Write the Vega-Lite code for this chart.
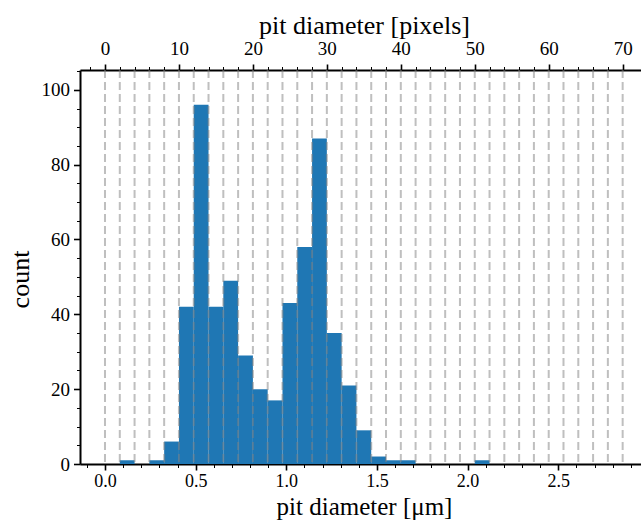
{
  "$schema": "https://vega.github.io/schema/vega-lite/v6.json",
  "width": 561,
  "height": 394,
  "autosize": {"type": "none"},
  "padding": {"left": 80, "top": 70, "right": 0, "bottom": 56},
  "background": "white",
  "datasets": {
    "bins": [
      {"px_start": 2, "px_end": 4, "count": 1},
      {"px_start": 6, "px_end": 8, "count": 1},
      {"px_start": 8, "px_end": 10, "count": 6},
      {"px_start": 10, "px_end": 12, "count": 42},
      {"px_start": 12, "px_end": 14, "count": 96},
      {"px_start": 14, "px_end": 16, "count": 42},
      {"px_start": 16, "px_end": 18, "count": 49},
      {"px_start": 18, "px_end": 20, "count": 29},
      {"px_start": 20, "px_end": 22, "count": 20},
      {"px_start": 22, "px_end": 24, "count": 17},
      {"px_start": 24, "px_end": 26, "count": 43},
      {"px_start": 26, "px_end": 28, "count": 58},
      {"px_start": 28, "px_end": 30, "count": 87},
      {"px_start": 30, "px_end": 32, "count": 35},
      {"px_start": 32, "px_end": 34, "count": 21},
      {"px_start": 34, "px_end": 36, "count": 9},
      {"px_start": 36, "px_end": 38, "count": 2},
      {"px_start": 38, "px_end": 40, "count": 1},
      {"px_start": 40, "px_end": 42, "count": 1},
      {"px_start": 50, "px_end": 52, "count": 1}
    ],
    "grid": [
      {"px": 0}, {"px": 2}, {"px": 4}, {"px": 6}, {"px": 8}, {"px": 10}, {"px": 12}, {"px": 14}, {"px": 16}, {"px": 18},
      {"px": 20}, {"px": 22}, {"px": 24}, {"px": 26}, {"px": 28}, {"px": 30}, {"px": 32}, {"px": 34}, {"px": 36}, {"px": 38},
      {"px": 40}, {"px": 42}, {"px": 44}, {"px": 46}, {"px": 48}, {"px": 50}, {"px": 52}, {"px": 54}, {"px": 56}, {"px": 58},
      {"px": 60}, {"px": 62}, {"px": 64}, {"px": 66}, {"px": 68}, {"px": 70}
    ],
    "um_axis": [{"um": 0}, {"um": 2.5}]
  },
  "config": {
    "font": "Liberation Serif",
    "view": {"stroke": null},
    "axis": {
      "labelFont": "Liberation Serif",
      "labelFontSize": 19,
      "labelColor": "black",
      "titleFont": "Liberation Serif",
      "titleFontSize": 26,
      "titleFontWeight": "normal",
      "titleColor": "black",
      "domainColor": "black",
      "domainWidth": 2,
      "tickColor": "black",
      "grid": false
    }
  },
  "layer": [
    {
      "layer": [
        {
          "data": {"name": "bins"},
          "mark": {"type": "rect", "color": "#1f77b4"},
          "encoding": {
            "x": {
              "field": "px_start", "type": "quantitative",
              "scale": {"domain": [-3.38, 72.48], "nice": false, "zero": false},
              "axis": {
                "orient": "top",
                "title": "pit diameter [pixels]",
                "values": [-2, 0, 2, 4, 6, 8, 10, 12, 14, 16, 18, 20, 22, 24, 26, 28, 30, 32, 34, 36, 38, 40, 42, 44, 46, 48, 50, 52, 54, 56, 58, 60, 62, 64, 66, 68, 70],
                "format": "d",
                "labelExpr": "datum.value % 10 === 0 ? datum.label : ''",
                "tickSize": {"condition": {"test": "datum.value % 10 === 0", "value": 6}, "value": 3.5},
                "tickWidth": {"condition": {"test": "datum.value % 10 === 0", "value": 1.6}, "value": 1},
                "labelPadding": 6,
                "labelFlush": false,
                "labelOverlap": false,
                "titleY": -37,
                "titleBaseline": "alphabetic",
                "titleX": 284
              }
            },
            "x2": {"field": "px_end"},
            "y": {
              "field": "count", "type": "quantitative",
              "scale": {"domain": [0, 105.3], "nice": false},
              "axis": {
                "title": "count",
                "values": [0, 5, 10, 15, 20, 25, 30, 35, 40, 45, 50, 55, 60, 65, 70, 75, 80, 85, 90, 95, 100, 105],
                "format": "d",
                "labelExpr": "datum.value % 20 === 0 ? datum.label : ''",
                "tickSize": {"condition": {"test": "datum.value % 20 === 0", "value": 6.5}, "value": 3.5},
                "tickWidth": {"condition": {"test": "datum.value % 20 === 0", "value": 1.6}, "value": 1},
                "labelPadding": 4,
                "labelFlush": false,
                "labelOverlap": false,
                "titleX": -52,
                "titleY": 209,
                "titleBaseline": "alphabetic"
              }
            },
            "y2": {"datum": 0}
          }
        },
        {
          "data": {"name": "grid"},
          "mark": {"type": "rule", "color": "#808080", "opacity": 0.5, "strokeWidth": 2, "strokeDash": [8, 4]},
          "encoding": {
            "x": {
              "field": "px", "type": "quantitative",
              "axis": {
                "orient": "top",
                "title": "pit diameter [pixels]",
                "values": [-2, 0, 2, 4, 6, 8, 10, 12, 14, 16, 18, 20, 22, 24, 26, 28, 30, 32, 34, 36, 38, 40, 42, 44, 46, 48, 50, 52, 54, 56, 58, 60, 62, 64, 66, 68, 70],
                "format": "d",
                "labelExpr": "datum.value % 10 === 0 ? datum.label : ''",
                "tickSize": {"condition": {"test": "datum.value % 10 === 0", "value": 6}, "value": 3.5},
                "tickWidth": {"condition": {"test": "datum.value % 10 === 0", "value": 1.6}, "value": 1},
                "labelPadding": 6,
                "labelFlush": false,
                "labelOverlap": false,
                "titleY": -37,
                "titleBaseline": "alphabetic",
                "titleX": 284
              }
            }
          }
        }
      ]
    },
    {
      "data": {"name": "um_axis"},
      "mark": {"type": "point", "opacity": 0},
      "encoding": {
        "x": {
          "field": "um", "type": "quantitative",
          "scale": {"domain": [-0.1379, 2.9564], "nice": false, "zero": false},
          "axis": {
            "orient": "bottom",
            "title": "pit diameter [μm]",
            "values": [-0.1, 0, 0.1, 0.2, 0.3, 0.4, 0.5, 0.6, 0.7, 0.8, 0.9, 1, 1.1, 1.2, 1.3, 1.4, 1.5, 1.6, 1.7, 1.8, 1.9, 2, 2.1, 2.2, 2.3, 2.4, 2.5, 2.6, 2.7, 2.8, 2.9],
            "format": ".1f",
            "labelExpr": "abs(datum.value * 2 - round(datum.value * 2)) < 0.001 ? datum.label : ''",
            "tickSize": {"condition": {"test": "abs(datum.value * 2 - round(datum.value * 2)) < 0.001", "value": 6}, "value": 3.5},
            "tickWidth": {"condition": {"test": "abs(datum.value * 2 - round(datum.value * 2)) < 0.001", "value": 1.6}, "value": 1},
            "labelFontSize": 18,
            "labelPadding": 2,
            "labelFlush": false,
            "labelOverlap": false,
            "titleFontSize": 25,
            "titleY": 50,
            "titleBaseline": "alphabetic",
            "titleX": 284
          }
        }
      }
    }
  ],
  "resolve": {"scale": {"x": "independent"}, "axis": {"x": "independent"}}
}
